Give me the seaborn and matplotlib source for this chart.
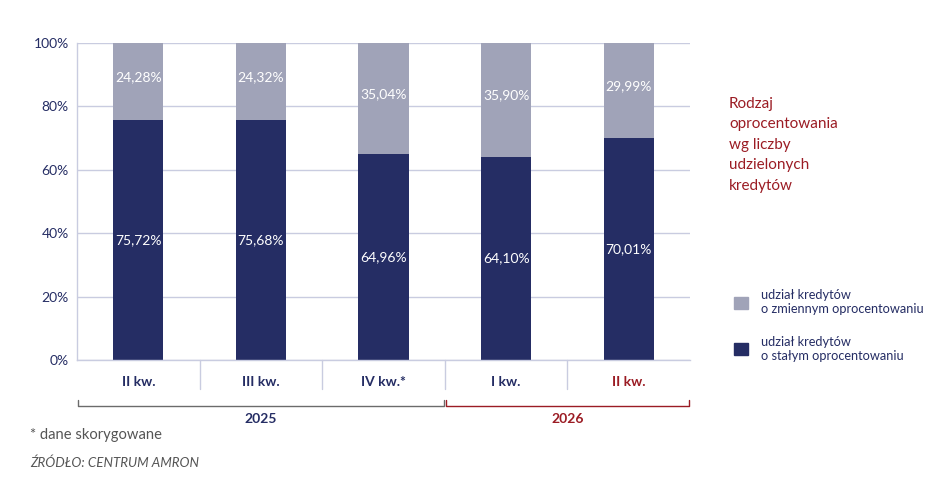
import matplotlib
matplotlib.use("Agg")
import matplotlib.pyplot as plt
import seaborn as sns
import numpy as np
from matplotlib.patches import Patch

# Data
quarters = ["II kw.", "III kw.", "IV kw.*", "I kw.", "II kw."]
years = ["2025", "2026"]
year_spans = [(0, 2), (3, 4)]
fixed = [75.72, 75.68, 64.96, 64.10, 70.01]
variable = [24.28, 24.32, 35.04, 35.90, 29.99]

navy = "#252d64"
grey = "#a0a3b8"
red = "#9b1c24"
grid_col = "#c9cce0"

sns.set_theme(style="white")
plt.rcParams["font.family"] = ["Lato", "DejaVu Sans"]

fig = plt.figure(figsize=(9.48, 4.83), dpi=100)
ax = fig.add_axes([0.0812, 0.2547, 0.6467, 0.6563])

x = np.arange(len(quarters))
totals = [f + v for f, v in zip(fixed, variable)]
sns.barplot(x=x, y=totals, color=grey, width=0.41, saturation=1, ax=ax,
            native_scale=True, linewidth=0)
sns.barplot(x=x, y=fixed, color=navy, width=0.41, saturation=1, ax=ax,
            native_scale=True, linewidth=0)

ax.set_xlim(-0.5, len(quarters) - 0.5)
ax.set_ylim(0, 100)
ax.set_yticks(range(0, 101, 20))
ax.set_yticklabels([f"{t}%" for t in range(0, 101, 20)], color=navy, fontsize=10)
ax.tick_params(axis="y", length=0, pad=6)
ax.set_xticks([])
ax.set_xlabel("")
ax.set_ylabel("")
ax.grid(axis="y", color=grid_col, linewidth=1)
ax.set_axisbelow(True)
for s in ["top", "right"]:
    ax.spines[s].set_visible(False)
for s in ["left", "bottom"]:
    ax.spines[s].set_color(grid_col)
    ax.spines[s].set_linewidth(1)

# value labels
for i in range(len(quarters)):
    ax.text(x[i], fixed[i] / 2, f"{fixed[i]:.2f}%".replace(".", ","),
            ha="center", va="center", color="white", fontsize=10)
    ax.text(x[i], fixed[i] + variable[i] / 2 + 1.5, f"{variable[i]:.2f}%".replace(".", ","),
            ha="center", va="center", color="white", fontsize=10)

# category labels and separators below axis
trans = ax.get_xaxis_transform()
for i, q in enumerate(quarters):
    col = red if i == len(quarters) - 1 else navy
    ax.text(x[i], -0.068, q, transform=trans, ha="center", va="center",
            color=col, fontsize=10, fontweight="bold")
for b in x[:-1] + 0.5:
    ax.plot([b, b], [0, -0.09], transform=trans, color=grid_col, lw=1, clip_on=False)

# year brackets
for (a, b), yr, col in zip(year_spans, years, ["#6b6b6b", red]):
    lo, hi = a - 0.5 + 0.01, b + 0.5 - 0.01
    ax.plot([lo, lo, hi, hi], [-0.125, -0.145, -0.145, -0.125], transform=trans,
            color=col, lw=1, clip_on=False)
    ax.text((lo + hi) / 2, -0.185, yr, transform=trans, ha="center", va="center",
            color=navy if yr == "2025" else red, fontsize=10, fontweight="bold")

# title on the right
fig.text(0.769, 0.80, "Rodzaj\noprocentowania\nwg liczby\nudzielonych\nkredytów",
         ha="left", va="top", color=red, fontsize=11, linespacing=1.6)

# legend
handles = [Patch(color=grey), Patch(color=navy)]
labels = ["udział kredytów\no zmiennym oprocentowaniu", "udział kredytów\no stałym oprocentowaniu"]
fig.legend(handles, labels, loc="upper left", bbox_to_anchor=(0.762, 0.425),
           frameon=False, fontsize=9.2, labelcolor=navy, handlelength=1.1,
           handleheight=1.1, labelspacing=1.6, handletextpad=1.0)

# footnotes
fig.text(0.032, 0.099, "* dane skorygowane", color="#555555", fontsize=10.6, va="center")
fig.text(0.032, 0.041, "ŹRÓDŁO: CENTRUM AMRON", color="#555555", fontsize=9.6,
         style="italic", va="center")

fig.savefig("out.png", dpi=100)
